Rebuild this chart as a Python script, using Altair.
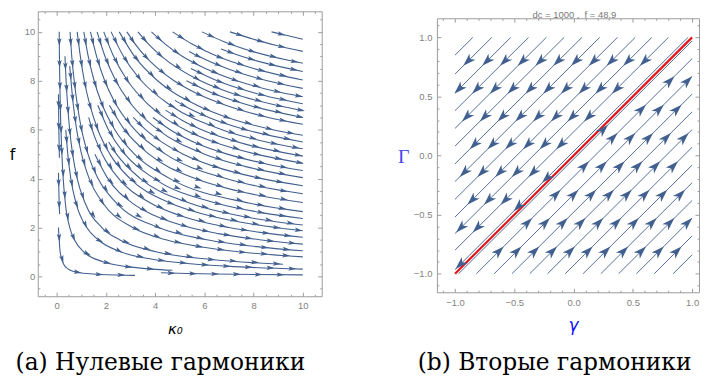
import math
import pandas as pd
import altair as alt

STREAM = "#42608f"
FRAME = "#9c9c9c"
LABEL = "#7f7f7f"
RED = "#e3161d"

# ---------------- panel (a): streamlines (kappa0, f) ----------------
a01 = [(8.73, 10), (9.36, 9.85), (10, 9.7)]
a02 = [(7.04, 10), (8.0, 9.7), (8.9, 9.45), (10, 9.2)]
a03 = [(5.9, 10), (6.8, 9.6), (7.96, 9.2), (9.6, 8.8), (10, 8.72)]
a04 = [(4.71, 10), (5.5, 9.5), (6.52, 9), (8.0, 8.5), (10, 8.03)]
a05 = [(3.85, 10), (4.41, 9.5), (5.1, 9), (6.04, 8.5), (7.32, 8), (9.2, 7.5), (10, 7.35)]
a06 = [(3.3, 10), (3.73, 9.5), (4.26, 9), (5.84, 8), (7.09, 7.5), (8.93, 7), (10, 6.78)]
a07 = [(2.85, 10), (3.19, 9.5), (3.6, 9), (4.12, 8.5), (4.77, 8), (5.65, 7.5), (6.87, 7), (8.6, 6.5), (10, 6.22)]
a08 = [(2.54, 10), (3.16, 9), (4.1, 8), (5.7, 7), (6.94, 6.5), (8.79, 6), (10, 5.77)]
a09 = [(2.21, 10), (2.71, 9), (3.44, 8), (4.62, 7), (6.71, 6), (8.52, 5.5), (10, 5.22)]
a10 = [(1.91, 10), (2.31, 9), (2.88, 8), (3.75, 7), (5.21, 6), (6.39, 5.5), (8.11, 5), (10, 4.63)]
a11 = [(1.64, 10), (1.96, 9), (2.4, 8), (3.06, 7), (4.11, 6), (6.01, 5), (7.64, 4.5), (10, 4.04)]
a12 = [(1.37, 10), (1.62, 9), (1.95, 8), (2.43, 7), (3.17, 6), (4.42, 5), (6.87, 4), (9.22, 3.5), (10, 3.38)]
a13 = [(1.1, 10), (1.28, 9), (1.52, 8), (1.86, 7), (2.36, 6), (3.16, 5), (4.6, 4), (7.81, 3), (10, 2.65)]
a14 = [(0.83, 10), (0.96, 9), (1.12, 8), (1.35, 7), (1.67, 6), (2.16, 5), (2.98, 4), (4.61, 3), (6.14, 2.5), (8.91, 2), (10, 1.87)]
a15 = [(0.54, 10), (0.61, 9), (0.71, 8), (0.84, 7), (1.01, 6), (1.27, 5), (1.68, 4), (2.43, 3), (4.14, 2), (6.1, 1.5), (8.3, 1.2), (10, 1.05)]
a16 = [(0.1, 10), (0.11, 9), (0.145, 7), (0.21, 5), (0.35, 3), (0.53, 2), (0.72, 1.5), (1.1, 1), (1.88, 0.6), (2.87, 0.4), (3.88, 0.3), (4.7, 0.25)]
a17 = [(6.68, 9.3), (7.51, 9.0), (8.56, 8.7), (10, 8.38)]
a18 = [(5.38, 9.2), (5.76, 9), (6.92, 8.5), (8.56, 8), (10, 7.69)]
a19 = [(5.45, 8.5), (6.52, 8), (8.04, 7.5), (10, 7.06)]
a20 = [(5.27, 8), (6.32, 7.5), (7.81, 7), (10, 6.5)]
a21 = [(4.8, 7.2), (5.14, 7), (6.18, 6.5), (7.68, 6), (10, 5.5)]
a22 = [(4.42, 6.8), (5.07, 6.4), (5.89, 6), (7.7, 5.4), (10, 4.92)]
a23 = [(3.91, 6.5), (4.61, 6), (5.56, 5.5), (6.93, 5), (8.52, 4.6), (10, 4.33)]
a24 = [(3.11, 6.5), (3.61, 6), (4.26, 5.5), (5.14, 5), (6.4, 4.5), (8.33, 4), (10, 3.71)]
a25 = [(2.14, 7), (2.75, 6), (3.75, 5), (5.63, 4), (7.33, 3.5), (10, 3.02)]
a26 = [(1.67, 7), (2.1, 6), (2.77, 5), (3.96, 4), (6.46, 3), (8.38, 2.6), (10, 2.37)]
a27 = [(2.11, 5.5), (2.43, 5), (3.4, 4), (5.39, 3), (7.32, 2.5), (10, 2.1)]
a28 = [(1.3, 6.5), (1.44, 6), (1.85, 5), (2.52, 4), (3.81, 3), (4.98, 2.5), (7.0, 2), (8.27, 1.8), (10, 1.6)]
a29 = [(1.55, 5), (2.08, 4), (3.07, 3), (3.95, 2.5), (5.41, 2), (6.57, 1.75), (8.24, 1.5), (10, 1.32)]
a30 = [(0.528, 8.6), (0.675, 7), (0.81, 6), (1.01, 5), (1.32, 4), (1.875, 3), (3.09, 2), (4.44, 1.5), (5.9, 1.2), (7.47, 1), (10, 0.8)]
a31 = [(0.334, 9), (0.381, 8), (0.443, 7), (0.526, 6), (0.646, 5), (0.832, 4), (1.154, 3), (1.83, 2), (2.55, 1.5), (4.08, 1), (6.19, 0.7), (9.2, 0.5)]
a32 = [(0.369, 6), (0.449, 5), (0.572, 4), (0.784, 3), (1.22, 2), (1.68, 1.5), (2.62, 1), (3.89, 0.7), (5.65, 0.5), (7.25, 0.4), (10, 0.3)]
a33 = [(4.24, 0.15), (5.32, 0.12), (6.42, 0.1), (8.07, 0.08), (10, 0.065)]
a34 = [(0.07, 7.45), (0.087, 6), (0.108, 4.85)]
a35 = [(0.07, 4.24), (0.099, 3), (0.117, 2.55)]
a36 = [(0.07, 2), (0.14, 1), (0.282, 0.5), (0.471, 0.3), (0.709, 0.2), (1.093, 0.13), (1.78, 0.08), (3.18, 0.045)]

streams_a = [a01, a02, a03, a04, a05, a06, a07, a08, a09, a10, a11, a12, a13, a14, a15, a16, a17, a18,
             a19, a20, a21, a22, a23, a24, a25, a26, a27, a28, a29, a30, a31, a32, a33, a34, a35, a36]

a_major = [0, 2, 4, 6, 8, 10]
a_minor = [i / 2 for i in range(-1, 22)]

# ---------------- panel (b): straight streamlines Gamma = gamma + c ----------------
b_upper_offsets = [1.85, 1.69, 1.53, 1.38, 1.23, 1.08, 0.93, 0.78, 0.63, 0.48, 0.34, 0.20]
b_lower_offsets = [-0.18, -0.33, -0.48, -0.63, -0.78, -0.93, -1.08, -1.23, -1.38, -1.53, -1.68, -1.84]
b_hug_offsets = [0.035, -0.03]
b_upper_rows = [0.80, 0.565, 0.33, 0.095, -0.14, -0.375, -0.61, -0.845]
b_lower_rows = [-0.81, -0.57, -0.33, -0.09, 0.15, 0.39, 0.63, 0.87]
b_hug_down_rows = [-0.92, -0.43, -0.19]
b_hug_up_rows = [0.22]
b_diag_x = [-1.0, 1.0]
b_diag_y = [-1.0, 1.0]
b_major = [-1.0, -0.5, 0.0, 0.5, 1.0]
b_minor = [round(i / 10, 1) for i in range(-11, 12)]

# ---------------- geometry of the two plot areas ----------------
A_W, A_H = 286, 287
A_X, A_Y = [-0.77, 10.77], [-0.81, 10.84]
B_W = 264                     # frame of (b) is cut a little on the right, as in the figure
B_VH, B_TOP = 283, 7          # view height of panel (b); its frame starts B_TOP px lower
B_H = B_VH - B_TOP
B_X, B_Y = [-1.153, -1.153 + B_W / 119.4], [-1.157, 1.162]
b_minor_x = [v for v in b_minor if B_X[0] <= v <= B_X[1]]
sxa, sya = A_W / (A_X[1] - A_X[0]), A_H / (A_Y[1] - A_Y[0])
sxb, syb = B_W / (B_X[1] - B_X[0]), B_H / (B_Y[1] - B_Y[0])


def arrows_along(pts, sx, sy, first, step):
    X = [p[0] * sx for p in pts]
    Y = [-p[1] * sy for p in pts]
    seg = [math.hypot(X[i + 1] - X[i], Y[i + 1] - Y[i]) for i in range(len(pts) - 1)]
    total = sum(seg)
    out, s, i, acc = [], first, 0, 0.0
    while s < total - 2:
        while i < len(seg) - 1 and acc + seg[i] < s:
            acc += seg[i]
            i += 1
        t = (s - acc) / seg[i] if seg[i] > 0 else 0.0
        x = pts[i][0] + t * (pts[i + 1][0] - pts[i][0])
        y = pts[i][1] + t * (pts[i + 1][1] - pts[i][1])
        ang = math.degrees(math.atan2(X[i + 1] - X[i], -(Y[i + 1] - Y[i]))) % 360
        out.append((x, y, ang))
        s += step
    return out


rows_a, arr_a = [], []
for k, pts in enumerate(streams_a):
    for i, (x, y) in enumerate(pts):
        rows_a.append({"line": k, "i": i, "x": x, "y": y})
    for x, y, ang in arrows_along(pts, sxa, sya, 10.0, 22.0):
        arr_a.append({"x": x, "y": y, "ang": ang})
df_lines_a = pd.DataFrame(rows_a)
df_arr_a = pd.DataFrame(arr_a)

ang_down_left = math.degrees(math.atan2(-sxb, -syb)) % 360
ang_up_right = math.degrees(math.atan2(sxb, syb)) % 360

rows_b, arr_b = [], []
k = 0
for c in b_upper_offsets + [b_hug_offsets[0]]:
    rows_b += [{"line": k, "i": 0, "x": 1 - c, "y": 1.0}, {"line": k, "i": 1, "x": -1.0, "y": c - 1}]
    k += 1
for c in b_lower_offsets + [b_hug_offsets[1]]:
    rows_b += [{"line": k, "i": 0, "x": -1 - c, "y": -1.0}, {"line": k, "i": 1, "x": 1.0, "y": 1 + c}]
    k += 1
for c in b_upper_offsets:
    for y in b_upper_rows:
        x = y - c
        if x >= -0.97:
            arr_b.append({"x": x, "y": y, "ang": ang_down_left})
for c in b_lower_offsets:
    for y in b_lower_rows:
        x = y - c
        if x <= 0.97:
            arr_b.append({"x": x, "y": y, "ang": ang_up_right})
for y in b_hug_down_rows:
    arr_b.append({"x": y - b_hug_offsets[0], "y": y, "ang": ang_down_left})
for y in b_hug_up_rows:
    arr_b.append({"x": y - b_hug_offsets[1], "y": y, "ang": ang_up_right})
df_lines_b = pd.DataFrame(rows_b)
df_arr_b = pd.DataFrame(arr_b)
df_diag = pd.DataFrame({"x": b_diag_x, "y": b_diag_y})

ARROW_A = "M0,-1L0.5,0.8L0,0.45L-0.5,0.8Z"
ARROW_B = "M0,-1L0.62,0.9L0,0.4L-0.62,0.9Z"

LABEL_STYLE = dict(labelFont="Liberation Sans", labelFontSize=9.5, labelColor=LABEL,
                   ticks=False, domain=False, grid=False)


def tick_axis(orient, offset, values, test, **extra):
    return alt.Axis(orient=orient, offset=offset, values=values, labels=False, grid=False,
                    domain=True, domainColor=FRAME, domainWidth=1,
                    ticks=True, tickColor=FRAME, tickWidth=1,
                    tickSize={"condition": {"test": test, "value": 4}, "value": 2}, **extra)


def tick_axis_a(orient, offset):
    return tick_axis(orient, offset, a_minor, "abs(datum.value/2 - round(datum.value/2)) < 0.001", title=None)


def tick_axis_b(orient, offset, values, **extra):
    if "title" not in extra:
        extra["title"] = None
    return tick_axis(orient, offset, values, "abs(datum.value*2 - round(datum.value*2)) < 0.001", **extra)


def caption_axis(text, tx, ty):
    return alt.Axis(orient="bottom", labels=False, ticks=False, domain=False, grid=False,
                    title=text, titleFont="DejaVu Serif", titleFontSize=23.5, titleFontWeight="normal",
                    titleColor="black", titleX=tx, titleY=ty, titleAlign="center", titleBaseline="middle")


# ---------------- panel (a) chart ----------------
xsa = alt.Scale(domain=A_X, nice=False, zero=False)
ysa = alt.Scale(domain=A_Y, nice=False, zero=False)

lines_a = alt.Chart(df_lines_a).mark_line(interpolate="monotone", color=STREAM, strokeWidth=1.1).encode(
    x=alt.X("x:Q", scale=xsa, axis=alt.Axis(orient="bottom", values=a_major, format="d", labelPadding=4,
                                            **LABEL_STYLE,
                                            title="κ₀", titleFont="DejaVu Sans", titleFontSize=15,
                                            titleFontStyle="italic", titleFontWeight="normal", titleColor="black",
                                            titleX=138, titleY=33, titleAlign="center", titleBaseline="middle")),
    y=alt.Y("y:Q", scale=ysa, axis=alt.Axis(orient="left", values=a_major, format="d", labelPadding=3,
                                            **LABEL_STYLE,
                                            title="f", titleFont="DejaVu Sans", titleFontSize=16,
                                            titleFontWeight="normal", titleColor="black", titleAngle=0,
                                            titleX=-26, titleY=144, titleAlign="center", titleBaseline="middle")),
    detail="line:N",
    order="i:Q",
)
arrows_a = alt.Chart(df_arr_a).mark_point(shape=ARROW_A, filled=True, size=78, color=STREAM, opacity=1).encode(
    x=alt.X("x:Q", scale=xsa, axis=tick_axis_a("top", -A_H)),
    y=alt.Y("y:Q", scale=ysa, axis=tick_axis_a("right", -A_W)),
    angle=alt.Angle("ang:Q", scale=None),
)
dummy_a = df_lines_a.iloc[:1]
ticks2_a = alt.Chart(dummy_a).mark_point(opacity=0).encode(
    x=alt.X("x:Q", scale=xsa, axis=tick_axis_a("bottom", -A_H)),
    y=alt.Y("y:Q", scale=ysa, axis=tick_axis_a("left", -A_W)),
)
caption_a = alt.Chart(dummy_a).mark_point(opacity=0).encode(
    x=alt.X("x:Q", scale=xsa, axis=caption_axis("(a) Нулевые гармоники", 123, 67)),
    y=alt.Y("y:Q", scale=ysa, axis=None),
)
panel_a = alt.layer(lines_a, arrows_a, ticks2_a, caption_a).resolve_axis(
    x="independent", y="independent").properties(width=A_W, height=A_H)

# ---------------- panel (b) chart ----------------
xsb = alt.Scale(domain=B_X, nice=False, zero=False)
ysb = alt.Scale(domain=B_Y, range=[B_VH, B_TOP], nice=False, zero=False)

lines_b = alt.Chart(df_lines_b).mark_line(color=STREAM, strokeWidth=0.9).encode(
    x=alt.X("x:Q", scale=xsb, axis=alt.Axis(orient="bottom", values=b_major, format=".1f", labelPadding=5,
                                            **LABEL_STYLE,
                                            title="γ", titleFont="DejaVu Sans", titleFontSize=17,
                                            titleFontStyle="italic", titleFontWeight="normal", titleColor="#1010ff",
                                            titleX=137, titleY=34, titleAlign="center", titleBaseline="middle")),
    y=alt.Y("y:Q", scale=ysb, axis=alt.Axis(orient="left", values=b_major, format=".1f", labelPadding=5,
                                            **LABEL_STYLE,
                                            title="Γ", titleFont="Liberation Serif", titleFontSize=20,
                                            titleFontWeight="normal", titleColor="#4646f0", titleAngle=0,
                                            titleX=-34, titleY=146, titleAlign="center", titleBaseline="middle")),
    detail="line:N",
    order="i:Q",
)
red_b = alt.Chart(df_diag).mark_line(color=RED, strokeWidth=2.2).encode(
    x=alt.X("x:Q", scale=xsb, axis=tick_axis_b(
        "bottom", -B_H, b_minor_x, title="dc = 1000 ,\u00a0 f = 48.9", titleFont="Liberation Sans",
        titleFontSize=9.5, titleFontWeight="normal", titleColor="#777777", titleX=138, titleY=-3.5,
        titleAlign="center", titleBaseline="middle")),
    y=alt.Y("y:Q", scale=ysb, axis=tick_axis_b("left", -B_W, b_minor)),
)
arrows_b = alt.Chart(df_arr_b).mark_point(shape=ARROW_B, filled=True, size=190, color=STREAM, opacity=1).encode(
    x=alt.X("x:Q", scale=xsb, axis=tick_axis_b("top", -B_VH, b_minor_x)),
    y=alt.Y("y:Q", scale=ysb, axis=tick_axis_b("right", -B_W, b_minor)),
    angle=alt.Angle("ang:Q", scale=None),
)
dummy_b = df_diag.iloc[:1]
caption_b = alt.Chart(dummy_b).mark_point(opacity=0).encode(
    x=alt.X("x:Q", scale=xsb, axis=caption_axis("(b) Вторые гармоники", 118, 71)),
    y=alt.Y("y:Q", scale=ysb, axis=None),
)
panel_b = alt.layer(lines_b, red_b, arrows_b, caption_b).resolve_axis(
    x="independent", y="independent").properties(width=B_W, height=B_VH)

chart = alt.hconcat(panel_a, panel_b, spacing=74).properties(padding=0).configure_view(
    stroke="transparent")

chart.save("out.html", embed_options={"renderer": "svg", "actions": False})
